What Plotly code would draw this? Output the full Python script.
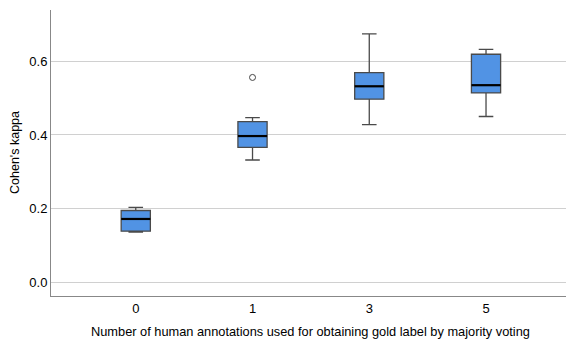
import plotly.graph_objects as go

categories = ["0", "1", "3", "5"]
q1 = [0.139, 0.366, 0.497, 0.514]
median = [0.172, 0.397, 0.532, 0.535]
q3 = [0.195, 0.436, 0.569, 0.619]
lower = [0.1365, 0.332, 0.428, 0.450]
upper = [0.2035, 0.447, 0.674, 0.632]
outlier_cat = ["1"]
outlier_val = [0.556]

pos = list(range(len(categories)))
box_w = 0.25
fill = "#5193E4"
edge = "#4a4a4a"

fig = go.Figure()
fig.add_trace(go.Box(
    x=pos, q1=q1, median=median, q3=q3, lowerfence=lower, upperfence=upper,
    width=box_w, whiskerwidth=0.5, fillcolor=fill,
    line=dict(color=edge, width=1.3), boxpoints=False, showlegend=False,
    hoverinfo="skip",
))
for p, m in zip(pos, median):
    fig.add_trace(go.Scatter(
        x=[p - box_w / 2, p + box_w / 2], y=[m, m], mode="lines",
        line=dict(color="black", width=2.2), showlegend=False, hoverinfo="skip",
    ))
fig.add_trace(go.Scatter(
    x=[categories.index(c) for c in outlier_cat], y=outlier_val, mode="markers",
    marker=dict(symbol="circle-open", size=6, color="#444", line=dict(width=1)),
    showlegend=False, hoverinfo="skip",
))

fig.update_layout(
    width=566, height=343,
    margin=dict(l=51, r=0, t=10, b=47),
    paper_bgcolor="white", plot_bgcolor="white",
    font=dict(family="Liberation Sans, Arial, sans-serif", color="black"),
    xaxis=dict(
        range=[-0.726, 3.685], tickvals=pos, ticktext=categories,
        showgrid=False, zeroline=False, showline=True, linecolor="#888",
        linewidth=1, ticks="", tickfont=dict(size=13), automargin=False,
    ),
    yaxis=dict(
        range=[-0.037, 0.739], tickvals=[0.0, 0.2, 0.4, 0.6],
        ticktext=["0.0", "0.2", "0.4", "0.6"],
        showgrid=True, gridcolor="#d0d0d0", gridwidth=1, zeroline=False,
        showline=True, linecolor="#888", linewidth=1, ticks="",
        tickfont=dict(size=13), automargin=False,
    ),
    annotations=[
        dict(text="Number of human annotations used for obtaining gold label by majority voting",
             xref="paper", yref="paper", x=0.5, y=-0.125, xanchor="center", yanchor="middle",
             showarrow=False, font=dict(size=12.8), xshift=2),
        dict(text="Cohen's kappa", xref="paper", yref="paper", x=0, y=0.5,
             xanchor="center", yanchor="middle", textangle=-90, showarrow=False,
             font=dict(size=12.5), xshift=-36, yshift=0),
    ],
)
fig.write_html("out.html", config={"displayModeBar": False},
               post_script="document.body.style.margin='0';document.body.style.overflow='hidden';")
